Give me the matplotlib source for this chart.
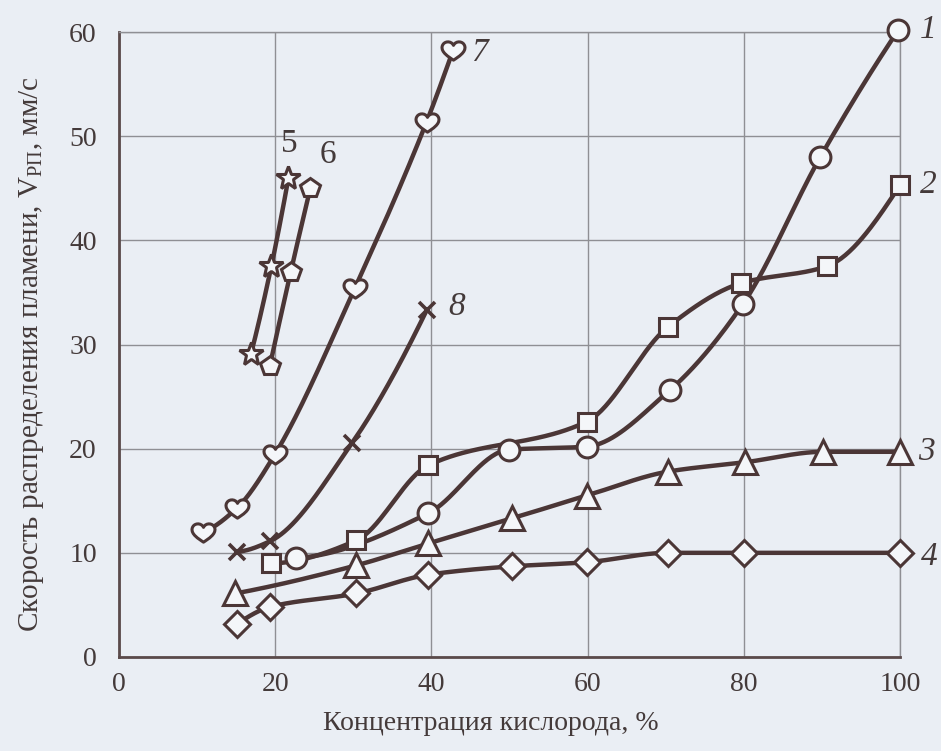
import numpy as np
import matplotlib
matplotlib.use("Agg")
import matplotlib.pyplot as plt
from matplotlib.path import Path

# Flame spread rate vs. oxygen concentration for eight polymers
x1 = [22.7, 39.6, 49.9, 59.9, 70.5, 79.9, 89.8, 99.8]
y1 = [9.5, 13.8, 19.9, 20.2, 25.6, 33.9, 48.0, 60.2]

x2 = [19.5, 30.4, 39.6, 59.9, 70.3, 79.7, 90.6, 100.0]
y2 = [9.0, 11.2, 18.4, 22.6, 31.7, 35.9, 37.5, 45.3]

x3 = [14.9, 30.4, 39.6, 50.3, 59.9, 70.3, 80.2, 90.2, 100.0]
y3 = [6.1, 8.8, 10.9, 13.3, 15.5, 17.8, 18.7, 19.7, 19.7]

x4 = [15.1, 19.3, 30.4, 39.6, 50.3, 59.9, 70.3, 80.0, 100.0]
y4 = [3.2, 4.8, 6.1, 7.9, 8.7, 9.1, 10.0, 10.0, 10.0]

x5 = [16.9, 19.5, 21.7]
y5 = [29.1, 37.5, 46.0]

x6 = [19.3, 22.0, 24.5]
y6 = [27.9, 37.0, 45.0]

x7 = [10.8, 15.1, 20.0, 30.2, 39.4, 42.8]
y7 = [12.0, 14.3, 19.5, 35.4, 51.4, 58.3]

x8 = [15.1, 19.3, 29.8, 39.4]
y8 = [10.1, 11.1, 20.5, 33.3]

curve_labels = ["1", "2", "3", "4", "5", "6", "7", "8"]
label_pos = [(103.6, 60.2), (103.6, 45.3), (103.4, 19.7), (103.8, 9.6),
             (21.8, 49.3), (26.8, 48.2), (46.2, 58.0), (43.2, 33.6)]

x_ticks = [0, 20, 40, 60, 80, 100]
y_ticks = [0, 10, 20, 30, 40, 50, 60]
x_title = "Концентрация кислорода, %"
y_title = r"Скорость распределения пламени, $\mathregular{V_{РП}}$, мм/с"


def pchip(x, y, xs):
    """Shape-preserving cubic through the points, used for the drawn curve."""
    x = np.asarray(x, float)
    y = np.asarray(y, float)
    h = np.diff(x)
    d = np.diff(y) / h
    n = len(x)
    m = np.zeros(n)
    if n == 2:
        m[:] = d[0]
    else:
        for k in range(1, n - 1):
            if d[k - 1] * d[k] <= 0:
                m[k] = 0.0
            else:
                w1 = 2 * h[k] + h[k - 1]
                w2 = h[k] + 2 * h[k - 1]
                m[k] = (w1 + w2) / (w1 / d[k - 1] + w2 / d[k])
        m[0] = ((2 * h[0] + h[1]) * d[0] - h[0] * d[1]) / (h[0] + h[1])
        if np.sign(m[0]) != np.sign(d[0]):
            m[0] = 0.0
        m[-1] = ((2 * h[-1] + h[-2]) * d[-1] - h[-1] * d[-2]) / (h[-1] + h[-2])
        if np.sign(m[-1]) != np.sign(d[-1]):
            m[-1] = 0.0
    idx = np.clip(np.searchsorted(x, xs) - 1, 0, n - 2)
    t = (xs - x[idx]) / h[idx]
    h00 = 2 * t**3 - 3 * t**2 + 1
    h10 = t**3 - 2 * t**2 + t
    h01 = -2 * t**3 + 3 * t**2
    h11 = t**3 - t**2
    return (h00 * y[idx] + h10 * h[idx] * m[idx]
            + h01 * y[idx + 1] + h11 * h[idx] * m[idx + 1])


# heart-shaped marker
heart = Path(
    [(0, -0.85), (-0.45, -0.55), (-1.1, -0.15), (-1.0, 0.35),
     (-0.9, 0.85), (-0.2, 0.9), (0, 0.45),
     (0.2, 0.9), (0.9, 0.85), (1.0, 0.35),
     (1.1, -0.15), (0.45, -0.55), (0, -0.85), (0, -0.85)],
    [Path.MOVETO, Path.CURVE4, Path.CURVE4, Path.CURVE4,
     Path.CURVE4, Path.CURVE4, Path.CURVE4,
     Path.CURVE4, Path.CURVE4, Path.CURVE4,
     Path.CURVE4, Path.CURVE4, Path.CURVE4, Path.CLOSEPOLY])

plt.rcParams["font.family"] = ["Liberation Serif", "DejaVu Serif"]

bg = "#eaeef4"
ink = "#4b3636"
txt = "#443a3a"
face = "#f4f6f9"

fig = plt.figure(figsize=(9.41, 7.51), dpi=100, facecolor=bg)
ax = fig.add_axes([119 / 941, 1 - 657 / 751, 781 / 941, 625 / 751])
ax.set_facecolor(bg)

series = [
    (x1, y1, "o", 15),
    (x2, y2, "s", 13.5),
    (x3, y3, "^", 17),
    (x4, y4, "D", 13.5),
    (x5, y5, "*", 18),
    (x6, y6, "p", 15),
    (x7, y7, heart, 18),
    (x8, y8, "x", 11),
]

for xs, ys, mk, ms in series:
    xx = np.linspace(xs[0], xs[-1], 300)
    ax.plot(xx, pchip(xs, ys, xx), color=ink, lw=3.2, zorder=3,
            solid_capstyle="round")
    ax.plot(xs, ys, linestyle="none", marker=mk, markersize=ms,
            markerfacecolor=face, markeredgecolor=ink,
            markeredgewidth=2.2 if mk != "x" else 2.6, zorder=4,
            clip_on=False)

for lab, (lx, ly) in zip(curve_labels, label_pos):
    style = "normal" if lab in ("5", "6") else "italic"
    ax.text(lx, ly, lab, fontsize=24, style=style, color=txt,
            ha="center", va="center", clip_on=False, zorder=5)

ax.set_xlim(0, 100)
ax.set_ylim(0, 60)
ax.set_xticks(x_ticks)
ax.set_yticks(y_ticks)
ax.tick_params(axis="both", length=0, labelsize=20, colors=txt)
ax.tick_params(axis="x", pad=11)
ax.tick_params(axis="y", pad=16)
ax.grid(True, color="#8f8f94", lw=1.0, zorder=1)

for side in ("top", "right"):
    ax.spines[side].set_color("#8f8f94")
    ax.spines[side].set_linewidth(1.0)
for side in ("left", "bottom"):
    ax.spines[side].set_color("#5a4a4a")
    ax.spines[side].set_linewidth(2.0)

fig.text(323 / 941, 1 - 723 / 751, x_title, fontsize=20, color=txt,
         ha="left", va="center")
fig.text(32 / 941, 1 - 354 / 751, y_title, fontsize=21, color=txt,
         ha="center", va="center", rotation=90)

fig.savefig("out.png", dpi=100, facecolor=bg)
